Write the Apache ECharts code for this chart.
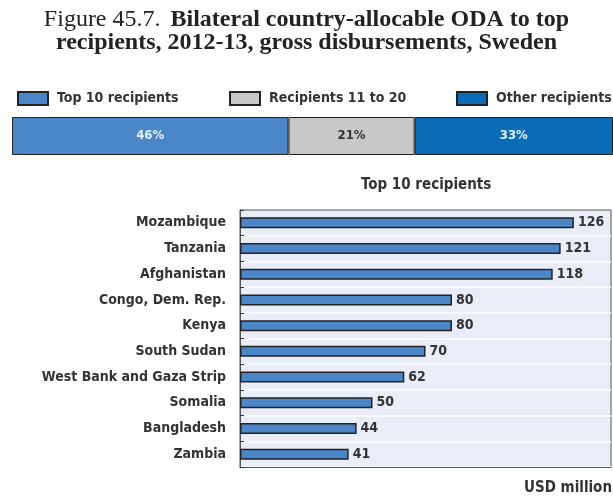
<!DOCTYPE html>
<html>
<head>
<meta charset="utf-8">
<script src="https://cdn.jsdelivr.net/npm/echarts@6/dist/echarts.min.js"></script>
<style>html,body{margin:0;padding:0;background:#fff;}#c{width:613px;height:499px;}</style>
</head>
<body>
<div id="c"></div>
<script>
const shareNames = ['Top 10 recipients', 'Recipients 11 to 20', 'Other recipients'];
const shareValues = [46, 21, 33];
const shareColors = ['#4a86c8', '#c8c8c8', '#0b6cb7'];
const countries = ['Mozambique', 'Tanzania', 'Afghanistan', 'Congo, Dem. Rep.', 'Kenya', 'South Sudan', 'West Bank and Gaza Strip', 'Somalia', 'Bangladesh', 'Zambia'];
const amounts = [126, 121, 118, 80, 80, 70, 62, 50, 44, 41];

const NARROW = "'Liberation Sans Narrow', 'DejaVu Sans Condensed', 'Arial Narrow', sans-serif";
const SERIF = "'Liberation Serif', 'DejaVu Serif', serif";

const chart = echarts.init(document.getElementById('c'), null, {renderer: 'canvas'});

const legendLefts = [12, 224, 451];
const legends = shareNames.map((n, i) => ({
  data: [n], left: legendLefts[i], top: 86,
  itemWidth: 30, itemHeight: 13, itemGap: 14, icon: 'rect',
  selectedMode: false,
  textStyle: {fontFamily: NARROW, fontSize: 14, color: '#333', fontWeight: 'bold', padding: [0,0,0,4]}
}));

const stackSeries = shareNames.map((n, i) => ({
  name: n, type: 'bar', stack: 'share', xAxisIndex: 0, yAxisIndex: 0,
  data: [shareValues[i]], barWidth: 38,
  itemStyle: {color: shareColors[i], borderColor: '#222', borderWidth: 1},
  label: {show: true, position: 'inside', formatter: '{c}%', fontFamily: NARROW, fontSize: 13, fontWeight: 'bold',
          color: i === 1 ? '#333' : '#e8eef8'}
}));

chart.setOption({
  animation: false,
  backgroundColor: '#fff',
  title: {
    left: 'center', top: 3,
    text: '{n|Figure 45.7.}  {b|Bilateral country-allocable ODA to top}\n{b|recipients, 2012-13, gross disbursements, Sweden}',
    textStyle: {
      rich: {
        n: {fontFamily: SERIF, fontSize: 24, fontWeight: 'normal', color: '#222', lineHeight: 23},
        b: {fontFamily: SERIF, fontSize: 24, fontWeight: 'bold', color: '#222', lineHeight: 23}
      }
    }
  },
  legend: legends,
  grid: [
    {left: 12, right: 0, top: 117, height: 38, containLabel: false},
    {left: 240, right: 2, top: 210, height: 257, show: true, backgroundColor: '#e9edf7', borderColor: '#555', borderWidth: 1}
  ],
  xAxis: [
    {gridIndex: 0, type: 'value', min: 0, max: 100, show: false},
    {gridIndex: 1, type: 'value', min: 0, max: 140, axisLabel: {show: false}, axisLine: {show: true, lineStyle: {color: '#555', width: 1}}, axisTick: {show: false}, splitLine: {show: false}}
  ],
  yAxis: [
    {gridIndex: 0, type: 'category', data: ['share'], show: false},
    {gridIndex: 1, type: 'category', data: countries, inverse: true,
     axisLine: {show: true, lineStyle: {color: '#555', width: 1}},
     axisTick: {show: true, inside: true, length: 4, lineStyle: {color: '#333'}},
     splitLine: {show: true, interval: (idx) => idx > 0 && idx < countries.length, lineStyle: {color: '#f8f9fd', width: 2}},
     axisLabel: {fontFamily: NARROW, fontSize: 14, fontWeight: 'bold', color: '#333', margin: 14}}
  ],
  graphic: [
    {type: 'text', left: 361, top: 178, style: {text: 'Top 10 recipients', fontFamily: NARROW, fontSize: 15, fontWeight: 'bold', fill: '#333'}},
    {type: 'text', right: 1, top: 481, style: {text: 'USD million', fontFamily: NARROW, fontSize: 15, fontWeight: 'bold', fill: '#333'}}
  ],
  series: stackSeries.concat([{
    name: 'Top 10 amounts', type: 'bar', xAxisIndex: 1, yAxisIndex: 1,
    data: amounts, barWidth: 11,
    itemStyle: {color: '#4a86c8', borderColor: '#222', borderWidth: 1.5},
    label: {show: true, position: 'right', distance: 4, fontFamily: NARROW, fontSize: 14, fontWeight: 'bold', color: '#333'}
  }])
});
</script>
</body>
</html>
